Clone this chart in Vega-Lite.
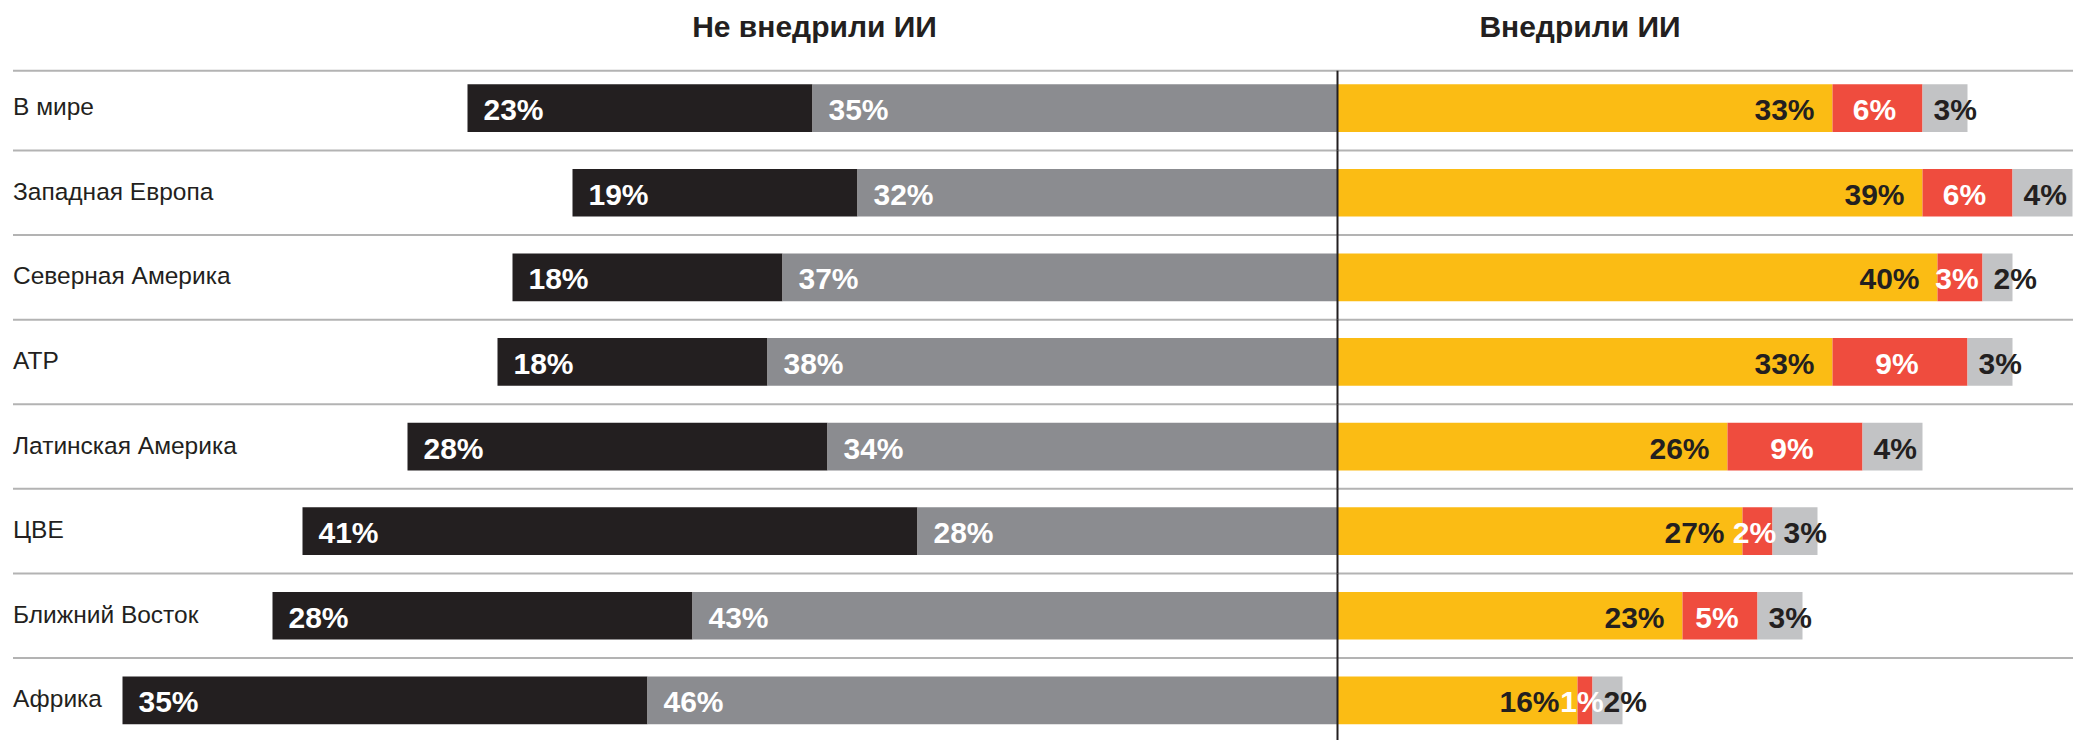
{
  "$schema": "https://vega.github.io/schema/vega-lite/v6.json",
  "width": 2073,
  "height": 740,
  "autosize": {"type": "none"},
  "padding": 0,
  "config": {"view": {"stroke": null}, "text": {"font": "Liberation Sans"}},
  "data": {
    "values": [
      {"region": "В мире", "side": "Не внедрили ИИ", "segment": "A2", "value": 0.23},
      {"region": "В мире", "side": "Не внедрили ИИ", "segment": "A1", "value": 0.35},
      {"region": "В мире", "side": "Внедрили ИИ", "segment": "B1", "value": 0.33},
      {"region": "В мире", "side": "Внедрили ИИ", "segment": "B2", "value": 0.06},
      {"region": "В мире", "side": "Внедрили ИИ", "segment": "B3", "value": 0.03},
      {"region": "Западная Европа", "side": "Не внедрили ИИ", "segment": "A2", "value": 0.19},
      {"region": "Западная Европа", "side": "Не внедрили ИИ", "segment": "A1", "value": 0.32},
      {"region": "Западная Европа", "side": "Внедрили ИИ", "segment": "B1", "value": 0.39},
      {"region": "Западная Европа", "side": "Внедрили ИИ", "segment": "B2", "value": 0.06},
      {"region": "Западная Европа", "side": "Внедрили ИИ", "segment": "B3", "value": 0.04},
      {"region": "Северная Америка", "side": "Не внедрили ИИ", "segment": "A2", "value": 0.18},
      {"region": "Северная Америка", "side": "Не внедрили ИИ", "segment": "A1", "value": 0.37},
      {"region": "Северная Америка", "side": "Внедрили ИИ", "segment": "B1", "value": 0.40},
      {"region": "Северная Америка", "side": "Внедрили ИИ", "segment": "B2", "value": 0.03},
      {"region": "Северная Америка", "side": "Внедрили ИИ", "segment": "B3", "value": 0.02},
      {"region": "АТР", "side": "Не внедрили ИИ", "segment": "A2", "value": 0.18},
      {"region": "АТР", "side": "Не внедрили ИИ", "segment": "A1", "value": 0.38},
      {"region": "АТР", "side": "Внедрили ИИ", "segment": "B1", "value": 0.33},
      {"region": "АТР", "side": "Внедрили ИИ", "segment": "B2", "value": 0.09},
      {"region": "АТР", "side": "Внедрили ИИ", "segment": "B3", "value": 0.03},
      {"region": "Латинская Америка", "side": "Не внедрили ИИ", "segment": "A2", "value": 0.28},
      {"region": "Латинская Америка", "side": "Не внедрили ИИ", "segment": "A1", "value": 0.34},
      {"region": "Латинская Америка", "side": "Внедрили ИИ", "segment": "B1", "value": 0.26},
      {"region": "Латинская Америка", "side": "Внедрили ИИ", "segment": "B2", "value": 0.09},
      {"region": "Латинская Америка", "side": "Внедрили ИИ", "segment": "B3", "value": 0.04},
      {"region": "ЦВЕ", "side": "Не внедрили ИИ", "segment": "A2", "value": 0.41},
      {"region": "ЦВЕ", "side": "Не внедрили ИИ", "segment": "A1", "value": 0.28},
      {"region": "ЦВЕ", "side": "Внедрили ИИ", "segment": "B1", "value": 0.27},
      {"region": "ЦВЕ", "side": "Внедрили ИИ", "segment": "B2", "value": 0.02},
      {"region": "ЦВЕ", "side": "Внедрили ИИ", "segment": "B3", "value": 0.03},
      {"region": "Ближний Восток", "side": "Не внедрили ИИ", "segment": "A2", "value": 0.28},
      {"region": "Ближний Восток", "side": "Не внедрили ИИ", "segment": "A1", "value": 0.43},
      {"region": "Ближний Восток", "side": "Внедрили ИИ", "segment": "B1", "value": 0.23},
      {"region": "Ближний Восток", "side": "Внедрили ИИ", "segment": "B2", "value": 0.05},
      {"region": "Ближний Восток", "side": "Внедрили ИИ", "segment": "B3", "value": 0.03},
      {"region": "Африка", "side": "Не внедрили ИИ", "segment": "A2", "value": 0.35},
      {"region": "Африка", "side": "Не внедрили ИИ", "segment": "A1", "value": 0.46},
      {"region": "Африка", "side": "Внедрили ИИ", "segment": "B1", "value": 0.16},
      {"region": "Африка", "side": "Внедрили ИИ", "segment": "B2", "value": 0.01},
      {"region": "Африка", "side": "Внедрили ИИ", "segment": "B3", "value": 0.02}
    ]
  },
  "encoding": {
    "y": {
      "field": "region", "type": "nominal", "sort": null, "axis": null,
      "scale": {
        "domain": ["В мире", "Западная Европа", "Северная Америка", "АТР", "Латинская Америка", "ЦВЕ", "Ближний Восток", "Африка"],
        "range": [65.85, 742.65], "paddingInner": 0, "paddingOuter": 0
      }
    }
  },
  "resolve": {"scale": {"x": "independent", "color": "independent", "opacity": "independent"}},
  "layer": [
    {
      "transform": [{"filter": "datum.segment === 'B1' && datum.region !== 'В мире'"}],
      "mark": {"type": "rule", "color": "#b3b3b3", "strokeWidth": 2},
      "encoding": {
        "y": {"field": "region", "type": "nominal", "bandPosition": 0},
        "x": {"datum": -0.883, "scale": {"domain": [-0.891667, 0.490333]}, "axis": null},
        "x2": {"datum": 0.490333}
      }
    },
    {
      "transform": [{"filter": "datum.segment === 'B1' && datum.region === 'В мире'"}],
      "mark": {"type": "rule", "color": "#b3b3b3", "strokeWidth": 2, "yOffset": 4.85},
      "encoding": {
        "y": {"field": "region", "type": "nominal", "bandPosition": 0},
        "x": {"datum": -0.883, "scale": {"domain": [-0.891667, 0.490333]}, "axis": null},
        "x2": {"datum": 0.490333}
      }
    },
    {
      "transform": [{"filter": "datum.side === 'Не внедрили ИИ'"}],
      "mark": {"type": "bar", "height": 47.7},
      "encoding": {
        "x": {"field": "value", "type": "quantitative", "stack": "zero", "axis": null,
              "scale": {"domain": [-0.490333, 0.891667], "reverse": true}},
        "color": {"field": "segment", "type": "nominal", "legend": null,
                  "scale": {"domain": ["A1", "A2", "B1", "B2", "B3"], "range": ["#8b8c90", "#231f20", "#fbbc14", "#ef4c3e", "#c2c3c5"]}},
        "order": {"field": "segment", "type": "nominal", "sort": "ascending"}
      }
    },
    {
      "transform": [{"filter": "datum.side === 'Внедрили ИИ'"}],
      "mark": {"type": "bar", "height": 47.7},
      "encoding": {
        "x": {"field": "value", "type": "quantitative", "stack": "zero", "axis": null,
              "scale": {"domain": [-0.891667, 0.490333]}},
        "color": {"field": "segment", "type": "nominal", "legend": null,
                  "scale": {"domain": ["A1", "A2", "B1", "B2", "B3"], "range": ["#8b8c90", "#231f20", "#fbbc14", "#ef4c3e", "#c2c3c5"]}},
        "order": {"field": "segment", "type": "nominal", "sort": "ascending"}
      }
    },
    {
      "transform": [{"filter": "datum.segment === 'B1' && datum.region !== 'В мире'"}],
      "mark": {"type": "tick", "color": "#231f20", "thickness": 2, "size": 84.6, "opacity": 1, "orient": "vertical"},
      "encoding": {
        "x": {"datum": 0, "scale": {"domain": [-0.891667, 0.490333]}, "axis": null}
      }
    },
    {
      "transform": [{"filter": "datum.segment === 'B1' && datum.region === 'В мире'"}],
      "mark": {"type": "tick", "color": "#231f20", "thickness": 2, "size": 79.75, "yOffset": 2.43, "opacity": 1, "orient": "vertical"},
      "encoding": {
        "x": {"datum": 0, "scale": {"domain": [-0.891667, 0.490333]}, "axis": null}
      }
    },
    {
      "transform": [{"filter": "datum.side === 'Не внедрили ИИ'"}],
      "mark": {"type": "text", "align": "left", "baseline": "middle", "dx": 16, "dy": 3, "fontSize": 30, "fontWeight": "bold", "color": "#ffffff"},
      "encoding": {
        "x": {"field": "value", "type": "quantitative", "stack": "zero", "axis": null,
              "scale": {"domain": [-0.490333, 0.891667], "reverse": true}},
        "detail": {"field": "segment", "type": "nominal"},
        "order": {"field": "segment", "type": "nominal", "sort": "ascending"},
        "text": {"field": "value", "type": "quantitative", "format": ".0%"}
      }
    },
    {
      "transform": [{"filter": "datum.side === 'Внедрили ИИ'"}],
      "mark": {"type": "text", "align": "right", "baseline": "middle", "dx": -18, "dy": 3, "fontSize": 30, "fontWeight": "bold", "color": "#231f20"},
      "encoding": {
        "x": {"field": "value", "type": "quantitative", "stack": "zero", "axis": null,
              "scale": {"domain": [-0.891667, 0.490333]}},
        "detail": {"field": "segment", "type": "nominal"},
        "order": {"field": "segment", "type": "nominal", "sort": "ascending"},
        "opacity": {"condition": {"test": "datum.segment === 'B1'", "value": 1}, "value": 0},
        "text": {"field": "value", "type": "quantitative", "format": ".0%"}
      }
    },
    {
      "transform": [{"filter": "datum.side === 'Внедрили ИИ'"}],
      "mark": {"type": "text", "align": "center", "baseline": "middle", "dx": -3, "dy": 3, "fontSize": 30, "fontWeight": "bold", "color": "#ffffff"},
      "encoding": {
        "x": {"field": "value", "type": "quantitative", "stack": "zero", "bandPosition": 0.5, "axis": null,
              "scale": {"domain": [-0.891667, 0.490333]}},
        "detail": {"field": "segment", "type": "nominal"},
        "order": {"field": "segment", "type": "nominal", "sort": "ascending"},
        "opacity": {"condition": {"test": "datum.segment === 'B2'", "value": 1}, "value": 0},
        "text": {"field": "value", "type": "quantitative", "format": ".0%"}
      }
    },
    {
      "transform": [{"filter": "datum.side === 'Внедрили ИИ'"}],
      "mark": {"type": "text", "align": "left", "baseline": "middle", "dx": 11, "dy": 3, "fontSize": 30, "fontWeight": "bold", "color": "#231f20"},
      "encoding": {
        "x": {"field": "value", "type": "quantitative", "stack": "zero", "bandPosition": 0, "axis": null,
              "scale": {"domain": [-0.891667, 0.490333]}},
        "detail": {"field": "segment", "type": "nominal"},
        "order": {"field": "segment", "type": "nominal", "sort": "ascending"},
        "opacity": {"condition": {"test": "datum.segment === 'B3'", "value": 1}, "value": 0},
        "text": {"field": "value", "type": "quantitative", "format": ".0%"}
      }
    },
    {
      "transform": [{"filter": "datum.segment === 'B1'"}],
      "mark": {"type": "text", "align": "left", "baseline": "middle", "fontSize": 24.5, "color": "#231f20"},
      "encoding": {
        "x": {"datum": -0.883, "scale": {"domain": [-0.891667, 0.490333]}, "axis": null},
        "text": {"field": "region", "type": "nominal"}
      }
    },
    {
      "data": {"values": [{"heading": "Не внедрили ИИ"}]},
      "mark": {"type": "text", "align": "center", "baseline": "alphabetic", "fontSize": 30, "fontWeight": "bold", "color": "#231f20", "yOffset": -29},
      "encoding": {
        "x": {"datum": -0.34867, "scale": {"domain": [-0.891667, 0.490333]}, "axis": null},
        "y": {"datum": "В мире", "bandPosition": 0},
        "text": {"field": "heading", "type": "nominal"}
      }
    },
    {
      "data": {"values": [{"heading": "Внедрили ИИ"}]},
      "mark": {"type": "text", "align": "center", "baseline": "alphabetic", "fontSize": 30, "fontWeight": "bold", "color": "#231f20", "yOffset": -29},
      "encoding": {
        "x": {"datum": 0.16167, "scale": {"domain": [-0.891667, 0.490333]}, "axis": null},
        "y": {"datum": "В мире", "bandPosition": 0},
        "text": {"field": "heading", "type": "nominal"}
      }
    }
  ]
}
